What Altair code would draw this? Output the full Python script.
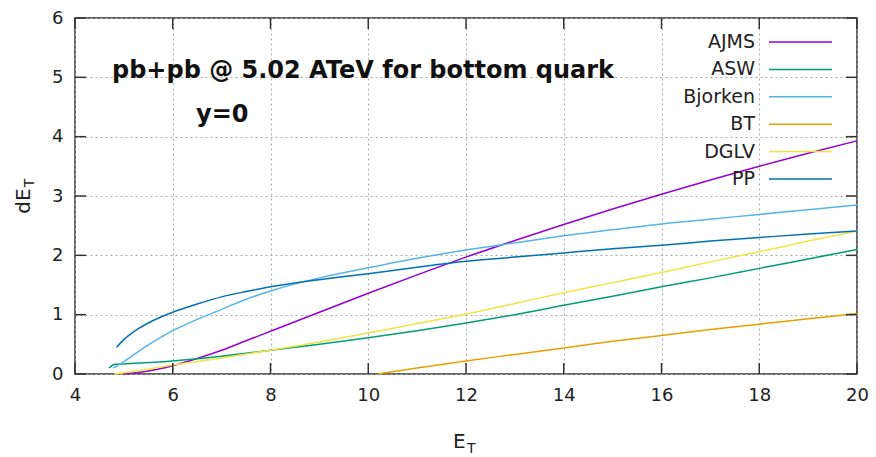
import altair as alt
import pandas as pd

# ---------------- data ----------------
series_names = ["AJMS", "ASW", "Bjorken", "BT", "DGLV", "PP"]
series_colors = ["#9400D3", "#009E73", "#56B4E9", "#E69F00", "#F0E442", "#0072B2"]

ajms_e = [5.0, 5.5, 6, 6.5, 7, 7.5, 8, 9, 10, 11, 12, 13, 14, 15, 16, 17, 18, 19, 20]
ajms_v = [0.0, 0.05, 0.14, 0.26, 0.40, 0.56, 0.72, 1.04, 1.36, 1.67, 1.97, 2.25, 2.52, 2.78, 3.03, 3.27, 3.50, 3.72, 3.93]

asw_e = [4.7, 4.8, 5, 6, 7, 8, 9, 10, 11, 12, 13, 14, 15, 16, 17, 18, 19, 20]
asw_v = [0.10, 0.16, 0.17, 0.22, 0.30, 0.40, 0.50, 0.61, 0.73, 0.86, 1.00, 1.16, 1.31, 1.47, 1.62, 1.78, 1.94, 2.10]

bjorken_e = [4.78, 5, 5.5, 6, 6.5, 7, 7.5, 8, 9, 10, 11, 12, 13, 14, 15, 16, 17, 18, 19, 20]
bjorken_v = [0.10, 0.21, 0.49, 0.73, 0.92, 1.09, 1.26, 1.40, 1.62, 1.79, 1.95, 2.09, 2.21, 2.33, 2.43, 2.53, 2.61, 2.69, 2.77, 2.85]

bt_e = [10.2, 11, 12, 13, 14, 15, 16, 17, 18, 19, 20]
bt_v = [0.0, 0.10, 0.22, 0.33, 0.44, 0.55, 0.65, 0.75, 0.84, 0.93, 1.02]

dglv_e = [4.8, 5, 5.5, 6, 7, 8, 9, 10, 11, 12, 13, 14, 15, 16, 17, 18, 19, 20]
dglv_v = [0.0, 0.02, 0.08, 0.15, 0.27, 0.40, 0.54, 0.69, 0.85, 1.01, 1.19, 1.37, 1.54, 1.71, 1.89, 2.06, 2.24, 2.41]

pp_e = [4.85, 5, 5.25, 5.5, 6, 6.5, 7, 7.5, 8, 9, 10, 11, 12, 13, 14, 15, 16, 17, 18, 19, 20]
pp_v = [0.45, 0.58, 0.74, 0.86, 1.04, 1.18, 1.30, 1.39, 1.47, 1.59, 1.69, 1.80, 1.90, 1.97, 2.04, 2.11, 2.17, 2.24, 2.30, 2.36, 2.41]

x_ticks = [4, 6, 8, 10, 12, 14, 16, 18, 20]
y_ticks = [0, 1, 2, 3, 4, 5, 6]

title_text = "pb+pb @ 5.02 ATeV for bottom quark"
sub_text = "y=0"

# ---------------- build tables ----------------
all_e = [ajms_e, asw_e, bjorken_e, bt_e, dglv_e, pp_e]
all_v = [ajms_v, asw_v, bjorken_v, bt_v, dglv_v, pp_v]
rows = []
for i, (name, es, vs) in enumerate(zip(series_names, all_e, all_v)):
    for e, v in zip(es, vs):
        rows.append({"series": name, "order": i, "E": e, "v": v})
df = pd.DataFrame(rows)

legend_df = pd.DataFrame({"series": series_names, "row": list(range(len(series_names)))})
xt_df = pd.DataFrame({"t": x_ticks})
yt_df = pd.DataFrame({"t": y_ticks})

W, H = 782, 356
FONT = "DejaVu Sans"

xscale = alt.Scale(domain=[4, 20], nice=False, zero=False)
yscale = alt.Scale(domain=[0, 6], nice=False)
cscale = alt.Scale(domain=series_names, range=series_colors)

base = alt.Chart(df)

lines = base.mark_line(strokeWidth=1.5, interpolate="monotone").encode(
    x=alt.X("E:Q", scale=xscale,
            axis=alt.Axis(values=x_ticks, format="d", title=None, grid=True, gridDash=[2, 3],
                          gridColor="#aaaaaa", tickSize=0, domain=False,
                          labelFontSize=18, labelFont=FONT, labelColor="#222",
                          labelPadding=12, labelFlush=False)),
    y=alt.Y("v:Q", scale=yscale,
            axis=alt.Axis(values=y_ticks, format="d", title=None, grid=True, gridDash=[2, 3],
                          gridColor="#aaaaaa", tickSize=0, domain=False,
                          labelFontSize=18, labelFont=FONT, labelColor="#222",
                          labelPadding=12, labelFlush=False)),
    color=alt.Color("series:N", scale=cscale, legend=None),
    detail="series:N",
    order="E:Q",
)

# inward ticks (gnuplot style, mirrored)
tick_color = "#333333"
xt_bottom = alt.Chart(xt_df).mark_rule(color=tick_color, strokeWidth=1.5).encode(
    x=alt.X("t:Q", scale=xscale), y=alt.value(H), y2=alt.value(H - 11))
xt_top = alt.Chart(xt_df).mark_rule(color=tick_color, strokeWidth=1.5).encode(
    x=alt.X("t:Q", scale=xscale), y=alt.value(0), y2=alt.value(11))
yt_left = alt.Chart(yt_df).mark_rule(color=tick_color, strokeWidth=1.5).encode(
    y=alt.Y("t:Q", scale=yscale), x=alt.value(0), x2=alt.value(11))
yt_right = alt.Chart(yt_df).mark_rule(color=tick_color, strokeWidth=1.5).encode(
    y=alt.Y("t:Q", scale=yscale), x=alt.value(W), x2=alt.value(W - 11))

# gnuplot-style key: label right-aligned, sample line to its right
leg_base = alt.Chart(legend_df).transform_calculate(ly="24 + datum.row * 27.4")
leg_text = leg_base.mark_text(align="right", baseline="middle", fontSize=19,
                              font=FONT, color="#222").encode(
    x=alt.value(680), y=alt.Y("ly:Q", scale=None), text="series:N")
leg_line = leg_base.mark_rule(strokeWidth=1.5).encode(
    x=alt.value(694), x2=alt.value(757), y=alt.Y("ly:Q", scale=None),
    color=alt.Color("series:N", scale=cscale, legend=None))

ann_df = pd.DataFrame({"label": [title_text, sub_text], "px": [37, 121], "py": [60, 104]})
ann = alt.Chart(ann_df).mark_text(align="left", baseline="alphabetic", fontSize=24,
                                  fontWeight="bold", font=FONT, color="#111").encode(
    x=alt.X("px:Q", scale=None), y=alt.Y("py:Q", scale=None), text="label:N")

# axis titles with subscript T
xt_df2 = pd.DataFrame({"label": ["E", "T"], "px": [378, 392], "py": [74 + H, 79 + H],
                       "fs": [20, 14]})
xtitle = alt.Chart(xt_df2).mark_text(align="left", baseline="alphabetic", font=FONT,
                                     color="#222").encode(
    x=alt.X("px:Q", scale=None), y=alt.Y("py:Q", scale=None), text="label:N",
    size=alt.Size("fs:Q", scale=None, legend=None))

yt_df2 = pd.DataFrame({"label": ["dE", "T"], "px": [-51, -45], "py": [183, 165],
                       "fs": [20, 14]})
ytitle = alt.Chart(yt_df2).mark_text(align="center", baseline="middle", angle=270,
                                     font=FONT, color="#222").encode(
    x=alt.X("px:Q", scale=None), y=alt.Y("py:Q", scale=None), text="label:N",
    size=alt.Size("fs:Q", scale=None, legend=None))

chart = alt.layer(
    lines, xt_bottom, xt_top, yt_left, yt_right, leg_text, leg_line, ann, xtitle, ytitle
).properties(
    width=W, height=H,
    autosize=alt.AutoSizeParams(type="none"),
    padding={"left": 75, "top": 18, "right": 19, "bottom": 83},
    background="white",
).configure_view(
    stroke="#333333", strokeWidth=1.5
)

chart.save("out.html", embed_options={"renderer": "svg", "actions": False})
